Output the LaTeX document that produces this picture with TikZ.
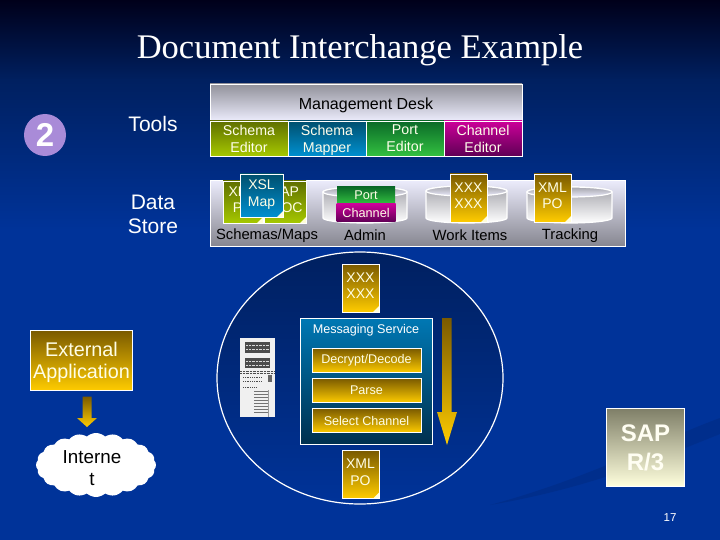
\documentclass[tikz,border=0pt]{standalone}
\usepackage{fontspec}
\setmainfont{Liberation Sans}
\newfontfamily\titlefont{Liberation Serif}
\usepackage{xcolor}
\usetikzlibrary{positioning, arrows.meta, shapes.geometric, shapes.symbols}

\definecolor{navytop}{HTML}{00001A}
\definecolor{navymid}{HTML}{002060}
\definecolor{slideblue}{HTML}{003399}
\definecolor{goldtop}{HTML}{7A5A00}
\definecolor{goldbot}{HTML}{FFCC00}
\definecolor{olivetop}{HTML}{5F6F00}
\definecolor{olivebot}{HTML}{A6C800}
\definecolor{tealtop}{HTML}{004F6E}
\definecolor{tealbot}{HTML}{0090D0}
\definecolor{servicetop}{HTML}{0078B4}
\definecolor{servicebot}{HTML}{00304F}
\definecolor{greentop}{HTML}{0A6A28}
\definecolor{greenbot}{HTML}{33C040}
\definecolor{magtop}{HTML}{CC0099}
\definecolor{magbot}{HTML}{5F0055}
\definecolor{lavender}{HTML}{ECECFC}
\definecolor{panelgray}{HTML}{85858F}
\definecolor{creamtop}{HTML}{7F7F68}
\definecolor{creambot}{HTML}{FFFFDD}
\definecolor{badge}{HTML}{A98BD8}
\newcommand{\px}[2]{\fontsize{#1}{#2}\selectfont}
% centre x, half width, y of top rim, y of bottom rim
\newcommand{\drawsilo}[4]{
  \shade[top color=panelgray!75!white, bottom color=white, draw=white, line width=1.2pt]
    (#1-#2,#3) -- (#1-#2,#4) arc[start angle=180, end angle=360, x radius=#2pt, y radius=5pt]
    -- (#1+#2,#3) arc[start angle=0, end angle=180, x radius=#2pt, y radius=5pt] -- cycle;
  \shade[top color=panelgray!75!white, bottom color=lavender, draw=white, line width=1.2pt]
    (#1,#3) ellipse[x radius=#2pt, y radius=5pt];
}

\begin{document}
\begin{tikzpicture}[
 x=1pt, y=-1pt,
 every node/.style={inner sep=0pt, outer sep=0pt},
 struts/.style={execute at begin node=\strut, execute at end node=\strut},
 tool/.style={rectangle, draw=white, thick, minimum width=78pt, minimum height=35pt, struts, text depth=0pt,
   align=center, text=white!92!yellow, font=\px{14.2}{17}},
 panel/.style={rectangle, draw=white, thick, top color=lavender, bottom color=panelgray},
 label/.style={font=\px{14.8}{17}, text=black},
 side/.style={font=\px{21}{24}, text=white, align=center},
 goldbox/.style={rectangle, draw=white, thick, top color=goldtop, bottom color=goldbot,
   minimum width=109pt, minimum height=24.5pt, align=center, text=white!90!yellow, font=\px{12.6}{15}},
 tag/.style={rectangle, font=\px{12.7}{15}, text=white!90!yellow},
 doc/.style={rectangle, draw=white, semithick, minimum width=37pt, minimum height=48pt,
   align=center, text=white!90!yellow, font=\px{14}{16.5}, top color=goldtop, bottom color=goldbot,
   struts,
   path picture={\fill[white!85!yellow] (path picture bounding box.south east) ++(-6pt,0pt)
     -- ++(6pt,6pt) -- ++(0pt,-6pt) -- cycle;}},
 blockarrow/.style={top color=goldtop, bottom color=goldbot, draw=none}
]
% background
\shade[top color=navytop, bottom color=navymid] (0,0) rectangle (720,80);
\shade[top color=navymid, bottom color=slideblue] (0,80) rectangle (720,230);
\fill[slideblue] (0,230) rectangle (720,540);
\fill[navymid, opacity=0.22] (490,505) .. controls (590,478) and (660,440) .. (720,418)
  -- (720,434) .. controls (660,458) and (590,488) .. (490,505) -- cycle;

\node[font=\titlefont\px{34.5}{36}, text=white] (title) at (360,50) {Document Interchange Example};
\node[circle, fill=badge, minimum size=42pt, font=\bfseries\px{33}{33}, text=white] (two) at (45,135) {2};
\node[side] (tools) at (153,124) {Tools};
\node[side] (store) at (153,214) {Data\\Store};

% management desk
\node[panel, minimum width=312pt, minimum height=37pt, top color=panelgray!90!white, bottom color=lavender] (desk) at (366,102.5) {};
\node[font=\px{16}{18}, text=black] (desklabel) at (366,105) {Management Desk};
\node[tool, top color=olivetop, bottom color=olivebot, below right=37pt and 0pt of desk.north west] (schemaed) {Schema\\Editor};
\node[tool, top color=tealtop, bottom color=tealbot, right=0pt of schemaed] (mapper) {Schema\\Mapper};
\node[tool, top color=greentop, bottom color=greenbot, right=0pt of mapper] (ported) {Port\\Editor};
\node[tool, top color=magtop, bottom color=magbot, right=0pt of ported] (chaned) {Channel\\Editor};

% data store
\node[panel, minimum width=415pt, minimum height=66.5pt] (datastore) at (417.5,213.5) {};
\node[doc, top color=olivetop, bottom color=olivebot, minimum width=40pt, minimum height=42pt] (xmldoc) at (243,202) {XML\\PO};
\node[doc, top color=olivetop, bottom color=olivebot, minimum width=42pt, minimum height=42pt] (idoc) at (285,202) {SAP\\IDOC};
\node[doc, top color=tealtop, bottom color=tealbot, minimum width=43pt, minimum height=43pt] (xslmap) at (261.5,195.5) {XSL\\Map};
\drawsilo{365}{42}{192}{218}
\node[tag, top color=greentop, bottom color=greenbot, minimum width=58pt, minimum height=17pt] (port) at (366,195.5) {Port};
\node[tag, top color=magtop, bottom color=magbot, minimum width=59pt, minimum height=18pt, below=0pt of port] (channel) {Channel};
\drawsilo{466.5}{40.5}{191}{218}
\node[doc] (workdoc) at (468.5,198) {XXX\\XXX};
\drawsilo{569.5}{42.5}{192}{218}
\node[doc] (trackdoc) at (552.5,198) {XML\\PO};
\node[label] (schemas) at (267,235.5) {Schemas/Maps};
\node[label] (admin) at (365,235.5) {Admin};
\node[label] (workitems) at (470,235.5) {Work Items};
\node[label] (tracking) at (570,235.5) {Tracking};

% messaging service
\node[ellipse, draw=white, line width=1.2pt, top color=navymid, bottom color=slideblue, minimum width=286pt, minimum height=252pt] (hub) at (360,378) {};
\node[doc] (indoc) at (360.5,288) {XXX\\XXX};
\node[rectangle, draw=white, thick, top color=servicetop, bottom color=servicebot, minimum width=132pt, minimum height=126pt] (service) at (366.5,381) {};
\node[font=\px{12.6}{15}, text=white] (servicelabel) at (366,330.5) {Messaging Service};
\node[goldbox] (decrypt) at (366.5,360.5) {Decrypt/Decode};
\node[goldbox, below=5.5pt of decrypt] (parse) {Parse};
\node[goldbox, below=5.5pt of parse] (select) {Select Channel};
\node[doc] (outdoc) at (360.5,474.5) {XML\\PO};
\shade[blockarrow] (442,318) -- (451.5,318) -- (451.5,412) -- (457,412) -- (447,445) -- (437,412) -- (442,412) -- cycle;

% server
\fill[white!88!gray] (240,338) rectangle (275,417);
\fill[black!70] (245,342) rectangle (270,353);
\fill[black!70] (245,358) rectangle (270,368);
\foreach \yy in {345,349,361,365} \draw[white!70!gray, densely dotted] (246,\yy) -- (269,\yy);
\foreach \yy in {371,373.5} \draw[black!70, densely dotted] (240,\yy) -- (275,\yy);
\draw[black!70, thick, densely dotted] (243,377) -- (262,377) (243,381) -- (262,381);
\fill[black!60] (268,375) rectangle (271.5,382);
\draw[black!70, thick, densely dotted] (243,387) -- (256,387);
\foreach \yy in {391,394,...,412} \draw[black!55] (254,\yy) -- (268,\yy);
\draw[black!40] (268,390) -- (268,417);

% external application
\node[goldbox, minimum width=102pt, minimum height=60pt, font=\px{19.8}{22}, struts, text depth=0pt] (extapp) at (81.5,360.5) {External\\Application};
\shade[blockarrow] (82.5,396.5) -- (91.5,396.5) -- (91.5,418) -- (97,418) -- (87,427) -- (77,418) -- (82.5,418) -- cycle;
\node[cloud, cloud puffs=20, cloud puff arc=85, aspect=1.85, fill=white, minimum width=120pt, minimum height=64pt] (internet) at (96,465) {};
\node[font=\px{18.8}{22}, align=center, text=black] (internetlabel) at (92,468) {Interne\\t};

% r/3
\node[rectangle, draw=white, thick, top color=creamtop, bottom color=creambot, minimum width=78pt, minimum height=78pt, align=center, font=\bfseries\px{24}{29}, text=white!95!yellow] (sap) at (645.5,447.5) {SAP\\R/3};
\node[font=\px{11.5}{13}, text=white] (pagenum) at (670,518) {17};
\end{tikzpicture}
\end{document}
